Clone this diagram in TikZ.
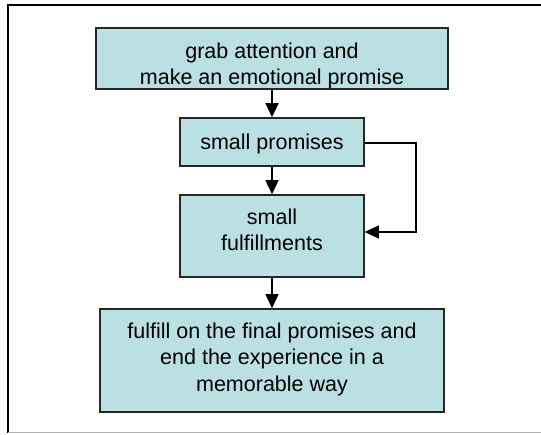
\documentclass[tikz,border=0pt]{standalone}
\usepackage{fontspec}
\setmainfont{Liberation Sans}
\usetikzlibrary{arrows.meta}
\definecolor{boxfill}{HTML}{BBE0E3}
\begin{document}
\begin{tikzpicture}[x=1pt,y=-1pt,
  flowbox/.style={draw=black!85, line width=1.5pt, fill=boxfill, inner sep=0pt},
  boxtext/.style={align=center, inner sep=0pt, font=\fontsize{21.5}{26.5}\selectfont},
  flowarrow/.style={line width=1.3pt, -{Triangle[length=14pt,width=13pt]}}]
\useasboundingbox (0,0) rectangle (541,435);
\draw[line width=1.5pt] (8,433) -- (8,5) -- (541,5);
\draw[gray!60, line width=1pt] (8,433) -- (541,433);
\node[flowbox, minimum width=352pt, minimum height=61pt] (a) at (272,58.5) {};
\node[boxtext] (at) at (272,66) {grab attention and\\make an emotional promise};
\node[flowbox, minimum width=184pt, minimum height=48pt] (b) at (272,142) {};
\node[boxtext] (bt) at (272,144) {small promises};
\node[flowbox, minimum width=184pt, minimum height=82pt] (c) at (272,236) {};
\node[boxtext] (ct) at (272,230) {small\\fulfillments};
\node[flowbox, minimum width=344pt, minimum height=103pt] (d) at (272,360.5) {};
\node[boxtext] (dt) at (272,359) {fulfill on the final promises and\\end the experience in a\\memorable way};
\coordinate (r1) at (416,143);
\coordinate (r2) at (416,232);
\draw[flowarrow] (a.south) -- (b.north);
\draw[flowarrow] (b.south) -- (c.north);
\draw[flowarrow] (c.south) -- (d.north);
\draw[flowarrow] (b.east |- r1) -- (r1) -- (r2) -- (c.east |- r2);
\end{tikzpicture}
\end{document}
